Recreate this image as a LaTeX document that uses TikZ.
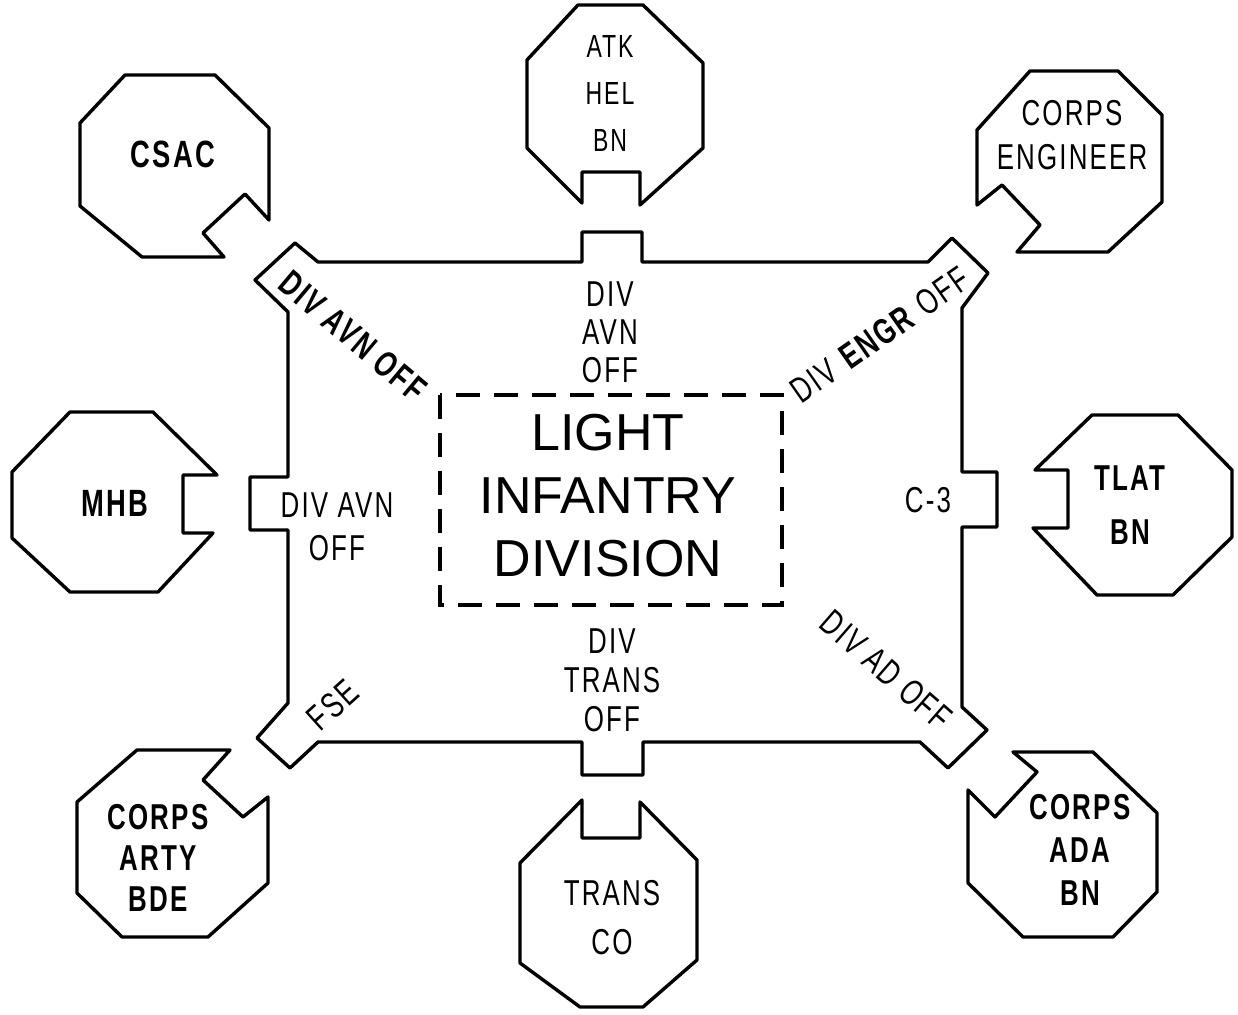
\documentclass[tikz,border=0pt]{standalone}
\usepackage{fontspec}
\setmainfont{Liberation Sans}
\newfontfamily\stencil{Liberation Sans}[FakeStretch=0.72,LetterSpace=6]

\begin{document}
\begin{tikzpicture}[x=0.5pt,y=-0.5pt,
  piece/.style={draw,line width=1.7pt,line join=round},
  dashbox/.style={draw,line width=1.6pt,dash pattern=on 12pt off 7pt},
  lab/.style={font=\stencil\fontsize{18}{22}\selectfont,align=center,inner sep=0pt},
  labb/.style={font=\stencil\bfseries\fontsize{18}{22}\selectfont,align=center,inner sep=0pt}]
  \useasboundingbox (0,0) rectangle (1238,1015);

  % division body with its eight tabs
  \draw[piece] (318,262) -- (582,262) -- (582,232) -- (642,232) -- (642,262) -- (928,262)
    -- (952,238) -- (988,273) -- (962,308) -- (962,472) -- (997,472) -- (997,527) -- (962,527)
    -- (962,707) -- (987,730) -- (948,768) -- (920,742) -- (643,742) -- (643,775) -- (582,775)
    -- (582,742) -- (318,742) -- (290,768) -- (257,738) -- (288,703) -- (288,530) -- (250,530)
    -- (250,477) -- (288,477) -- (288,312) -- (255,280) -- (295,243) -- cycle;
  \draw[dashbox] (440,395) rectangle (782,605);

  % outer pieces
  \draw[piece] (125,75) -- (215,75) -- (269,128) -- (269,220) -- (245,194) -- (203,233)
    -- (224,257) -- (142,257) -- (80,206) -- (80,123) -- cycle; % CSAC
  \draw[piece] (578,5) -- (643,5) -- (703,63) -- (703,148) -- (640,205) -- (640,172)
    -- (582,172) -- (582,203) -- (527,148) -- (527,60) -- cycle; % ATK HEL BN
  \draw[piece] (1030,71) -- (1118,71) -- (1162,115) -- (1162,202) -- (1108,252) -- (1017,252)
    -- (1040,225) -- (1002,185) -- (977,205) -- (977,130) -- cycle; % CORPS ENGINEER
  \draw[piece] (70,412) -- (153,412) -- (217,475) -- (183,475) -- (183,533) -- (213,533)
    -- (158,592) -- (70,592) -- (12,538) -- (12,472) -- cycle; % MHB
  \draw[piece] (1092,415) -- (1178,415) -- (1232,470) -- (1232,537) -- (1173,595) -- (1097,595)
    -- (1033,528) -- (1068,528) -- (1068,470) -- (1035,470) -- cycle; % TLAT BN
  \draw[piece] (137,750) -- (230,750) -- (203,780) -- (243,817) -- (268,797) -- (268,883)
    -- (208,937) -- (122,937) -- (77,893) -- (77,802) -- cycle; % CORPS ARTY BDE
  \draw[piece] (582,800) -- (582,838) -- (640,838) -- (640,802) -- (697,860) -- (697,960)
    -- (643,1007) -- (580,1007) -- (520,963) -- (520,863) -- cycle; % TRANS CO
  \draw[piece] (1013,752) -- (1093,752) -- (1157,813) -- (1157,892) -- (1113,937) -- (1023,937)
    -- (968,883) -- (968,790) -- (995,817) -- (1037,772) -- cycle; % CORPS ADA BN

  % texts
  \node[font=\fontsize{26}{31.5}\selectfont,align=center] (lid) at (608,496) {LIGHT\\INFANTRY\\DIVISION};
  \node[labb,font=\stencil\bfseries\fontsize{19}{22}\selectfont] (csac) at (173,154) {CSAC};
  \node[lab,font=\stencil\fontsize{16}{23.5}\selectfont] (atk) at (610,93) {ATK\\HEL\\BN};
  \node[lab] (engr) at (1072,135) {CORPS\\ENGINEER};
  \node[labb,font=\stencil\bfseries\fontsize{19}{22}\selectfont] (mhb) at (115,503) {MHB};
  \node[labb,font=\stencil\bfseries\fontsize{18}{27}\selectfont] (tlat) at (1130,505) {TLAT\\BN};
  \node[labb,font=\stencil\bfseries\fontsize{18}{20.5}\selectfont] (arty) at (158,858) {CORPS\\ARTY\\BDE};
  \node[lab,font=\stencil\fontsize{18}{24.5}\selectfont] (trco) at (612,918) {TRANS\\CO};
  \node[labb,font=\stencil\bfseries\fontsize{18}{21.5}\selectfont] (ada) at (1080,850) {CORPS\\ADA\\BN};

  \node[lab,font=\stencil\fontsize{18}{19}\selectfont] (avntop) at (610,332) {DIV\\AVN\\OFF};
  \node[lab,font=\stencil\fontsize{18}{21.5}\selectfont] (avnleft) at (337,527) {DIV AVN\\OFF};
  \node[lab] (gthree) at (928,500) {C-3};
  \node[lab,font=\stencil\fontsize{18}{19.5}\selectfont] (trans) at (612,680) {DIV\\TRANS\\OFF};
  \node[labb,rotate=-40] (avndiag) at (353,336) {DIV AVN OFF};
  \node[lab,rotate=35] (engroff) at (880,335) {DIV \textbf{ENGR} OFF};
  \node[lab,rotate=-41] (adoff) at (886,670) {DIV AD OFF};
  \node[lab,rotate=42] (fse) at (333,705) {FSE};
\end{tikzpicture}
\end{document}
